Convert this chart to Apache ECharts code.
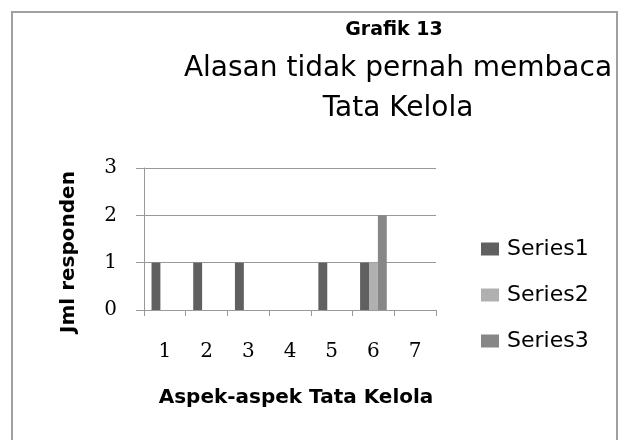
<!DOCTYPE html>
<html>
<head>
<meta charset="utf-8">
<script src="https://cdn.jsdelivr.net/npm/echarts@6/dist/echarts.min.js"></script>
<style>
html, body { margin: 0; padding: 0; background: #fff; }
#chart { width: 618px; height: 440px; }
</style>
</head>
<body>
<div id="chart"></div>
<script>
// data
var categories = ['1', '2', '3', '4', '5', '6', '7'];
var series1 = [1, 1, 1, 0, 1, 1, 0];
var series2 = [0, 0, 0, 0, 0, 1, 0];
var series3 = [0, 0, 0, 0, 0, 2, 0];
var seriesNames = ['Series1', 'Series2', 'Series3'];
var seriesColors = ['#606060', '#b0b0b0', '#878787'];

var chart = echarts.init(document.getElementById('chart'));

var sansFont = 'DejaVu Sans';
var serifFont = 'DejaVu Serif';

function barSeries(name, data, color) {
    return {
        name: name,
        type: 'bar',
        data: data,
        barGap: '0%',
        barCategoryGap: '36%',
        itemStyle: { color: color },
        emphasis: { disabled: true }
    };
}

var option = {
    animation: false,
    backgroundColor: '#fff',
    color: seriesColors,
    title: [
        {
            text: 'Grafik 13',
            left: 389,
            top: 16,
            textAlign: 'center',
            textStyle: { fontFamily: sansFont, fontWeight: 'bold', fontSize: 19, color: '#000' }
        },
        {
            text: 'Alasan tidak pernah membaca\nTata Kelola',
            left: 393,
            top: 44,
            textAlign: 'center',
            textStyle: { fontFamily: sansFont, fontWeight: 'normal', fontSize: 28, lineHeight: 40, color: '#000' }
        }
    ],
    legend: {
        orient: 'vertical',
        left: 476,
        top: 233,
        itemWidth: 18,
        itemHeight: 13,
        itemGap: 24,
        icon: 'rect',
        selectedMode: false,
        textStyle: { fontFamily: sansFont, fontSize: 22, color: '#000', padding: [0, 0, 0, 3] },
        data: seriesNames
    },
    grid: {
        left: 144,
        top: 168,
        width: 292,
        height: 142,
        containLabel: false
    },
    xAxis: {
        type: 'category',
        data: categories,
        name: 'Aspek-aspek Tata Kelola',
        nameLocation: 'middle',
        nameGap: 78,
        nameTextStyle: { fontFamily: sansFont, fontWeight: 'bold', fontSize: 20, color: '#000', padding: [0, 0, 0, 12] },
        axisLine: { lineStyle: { color: '#999', width: 1 } },
        axisTick: { show: true, length: 6, lineStyle: { color: '#999' } },
        axisLabel: { margin: 32, fontFamily: serifFont, fontSize: 20, color: '#000' }
    },
    yAxis: {
        type: 'value',
        min: 0,
        max: 3,
        interval: 1,
        name: 'Jml responden',
        nameLocation: 'middle',
        nameRotate: 90,
        nameGap: 65,
        nameTextStyle: { fontFamily: sansFont, fontWeight: 'bold', fontSize: 20, color: '#000', padding: [0, 26, 0, 0] },
        axisLine: { show: true, lineStyle: { color: '#999', width: 1 } },
        axisTick: { show: true, length: 8, lineStyle: { color: '#999' } },
        axisLabel: { margin: 27, fontFamily: serifFont, fontSize: 20, color: '#000' },
        splitLine: { lineStyle: { color: '#999', width: 1 } }
    },
    graphic: [
        {
            // outer frame of the chart, bottom edge falls outside the picture
            type: 'rect',
            shape: { x: 12, y: 12, width: 605, height: 450 },
            style: { fill: null, stroke: '#a0a0a0', lineWidth: 2 },
            silent: true
        }
    ],
    series: [
        barSeries(seriesNames[0], series1, seriesColors[0]),
        barSeries(seriesNames[1], series2, seriesColors[1]),
        barSeries(seriesNames[2], series3, seriesColors[2])
    ]
};

chart.setOption(option);
</script>
</body>
</html>
